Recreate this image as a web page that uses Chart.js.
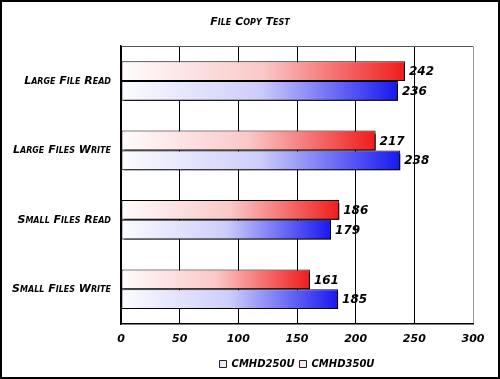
<!DOCTYPE html>
<html>
<head>
<meta charset="utf-8">
<script src="https://cdn.jsdelivr.net/npm/chart.js@4.4.0/dist/chart.umd.min.js"></script>
<style>
html,body{margin:0;padding:0;background:#fff;}
#wrap{width:500px;height:379px;position:relative;}
</style>
</head>
<body>
<div id="wrap"><canvas id="c" width="500" height="379"></canvas></div>
<script>
const categories = ["Large File Read", "Large Files Write", "Small Files Read", "Small Files Write"];
const seriesNames = ["CMHD350U", "CMHD250U"];
const cmhd350u = [242, 217, 186, 161];
const cmhd250u = [236, 238, 179, 185];
const xTicks = [0, 50, 100, 150, 200, 250, 300];

const FAM = "'DejaVu Sans', sans-serif";

function gradFill(c0, cm, c1) {
  return function(context) {
    const chart = context.chart;
    const area = chart.chartArea;
    if (!area || context.type !== 'data') return c1;
    const xs = chart.scales.x;
    const x0 = xs.getPixelForValue(0);
    const x1 = xs.getPixelForValue(context.raw);
    const g = chart.ctx.createLinearGradient(x0, 0, x1, 0);
    g.addColorStop(0, c0);
    g.addColorStop(0.5, cm);
    g.addColorStop(1, c1);
    return g;
  };
}

const shadowPlugin = {
  id: 'barShadow',
  beforeDatasetDraw(chart) {
    const ctx = chart.ctx;
    ctx.save();
    ctx.shadowColor = '#000';
    ctx.shadowOffsetX = 2;
    ctx.shadowOffsetY = 3;
    ctx.shadowBlur = 0;
  },
  afterDatasetDraw(chart) {
    chart.ctx.restore();
  }
};

const valueLabels = {
  id: 'valueLabels',
  afterDatasetsDraw(chart) {
    const ctx = chart.ctx;
    ctx.save();
    ctx.font = "italic bold 12px " + FAM;
    ctx.fillStyle = '#000';
    ctx.textBaseline = 'middle';
    ctx.textAlign = 'left';
    chart.data.datasets.forEach((ds, i) => {
      const meta = chart.getDatasetMeta(i);
      meta.data.forEach((bar, j) => {
        ctx.fillText(String(ds.data[j]), bar.x + 4, bar.y + 1);
      });
    });
    ctx.restore();
  }
};

const framePlugin = {
  id: 'frame',
  afterDraw(chart) {
    const ctx = chart.ctx;
    ctx.save();
    ctx.strokeStyle = '#000';
    ctx.lineWidth = 2;
    ctx.strokeRect(1, 1, chart.width - 2, chart.height - 2);
    ctx.restore();
  }
};

new Chart(document.getElementById('c'), {
  type: 'bar',
  data: {
    labels: categories,
    datasets: [
      {
        label: seriesNames[0],
        data: cmhd350u,
        backgroundColor: gradFill('rgb(255,252,252)', 'rgb(250,200,200)', 'rgb(240,28,28)'),
        borderColor: '#000',
        borderWidth: 1,
        borderSkipped: false
      },
      {
        label: seriesNames[1],
        data: cmhd250u,
        backgroundColor: gradFill('rgb(252,252,255)', 'rgb(205,205,250)', 'rgb(24,24,240)'),
        borderColor: '#000',
        borderWidth: 1,
        borderSkipped: false
      }
    ]
  },
  options: {
    indexAxis: 'y',
    responsive: false,
    animation: false,
    devicePixelRatio: 1,
    layout: { padding: { left: 0, right: 0, top: 0, bottom: 0 } },
    datasets: { bar: { barPercentage: 1.0, categoryPercentage: 0.57 } },
    scales: {
      x: {
        min: 0, max: 300,
        afterBuildTicks(scale) { scale.ticks = xTicks.map(v => ({ value: v })); },
        grid: {
          color: (c) => (c.tick && c.tick.value === 300) ? '#9a9a9a' : '#000',
          lineWidth: 1,
          drawTicks: false
        },
        border: { display: true, color: '#000', width: 1.5 },
        ticks: {
          padding: 9,
          color: '#000',
          font: { family: FAM, size: 11, style: 'italic', weight: 'bold' }
        },
        afterFit(scale) { scale.height = 30; }
      },
      y: {
        grid: {
          offset: true,
          drawTicks: false,
          color: (c) => c.index === 0 ? '#555' : 'rgba(0,0,0,0)',
          lineWidth: 1
        },
        border: { display: true, color: '#000', width: 1.5 },
        ticks: {
          padding: 10,
          color: '#000',
          font: { family: FAM, size: 11, style: 'italic', weight: 'small-caps bold' }
        },
        afterFit(scale) { scale.width = 121; }
      },
      yRight: {
        type: 'category',
        position: 'right',
        display: true,
        grid: { display: false, drawTicks: false },
        border: { display: false },
        ticks: { display: false },
        afterFit(scale) { scale.width = 27; }
      }
    },
    plugins: {
      title: {
        display: true,
        text: 'File Copy Test',
        color: '#000',
        font: { family: FAM, size: 11, style: 'italic', weight: 'small-caps bold' },
        padding: { top: 16, bottom: 17 }
      },
      legend: {
        display: true,
        position: 'bottom',
        fullSize: false,
        reverse: true,
        labels: {
          boxWidth: 7,
          boxHeight: 7,
          padding: 5,
          color: '#000',
          font: { family: FAM, size: 10, style: 'italic', weight: 'bold' },
          generateLabels(chart) {
            const fills = ['#fbe8ea', '#eceaf8'];
            return chart.data.datasets.map((ds, i) => ({
              text: ds.label,
              fillStyle: fills[i],
              strokeStyle: '#222',
              lineWidth: 1,
              hidden: false,
              datasetIndex: i,
              fontColor: '#000'
            }));
          }
        }
      },
      tooltip: { enabled: false }
    }
  },
  plugins: [shadowPlugin, valueLabels, framePlugin]
});
</script>
</body>
</html>
